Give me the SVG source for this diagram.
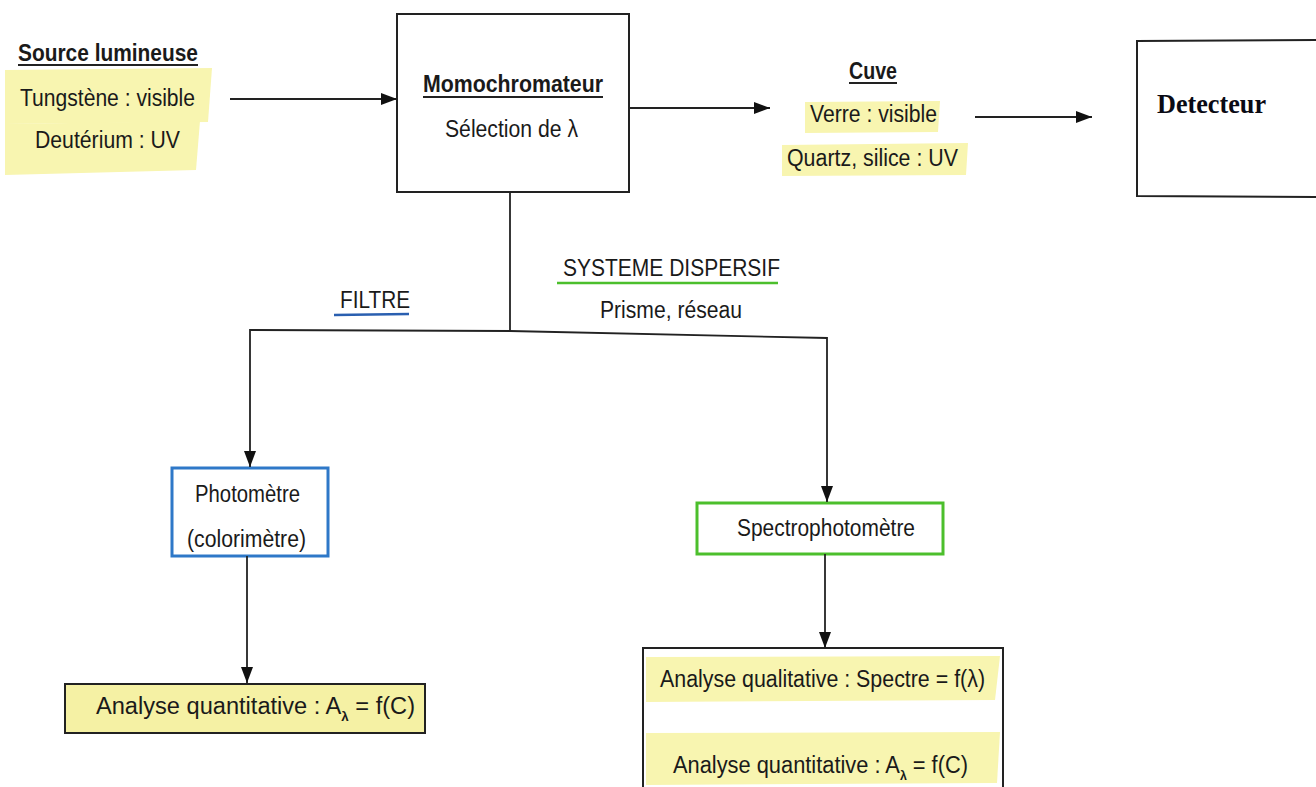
<svg xmlns="http://www.w3.org/2000/svg" width="1316" height="787" viewBox="0 0 1316 787">
<defs>
<marker id="ah" viewBox="0 0 16 12" refX="16" refY="6" markerWidth="16" markerHeight="12" markerUnits="userSpaceOnUse" orient="auto">
<path d="M0,0 L16,6 L0,12 Z" fill="#111"/>
</marker>
<style>
text{font-family:"Liberation Sans",Arial,sans-serif;font-size:23px;fill:#1a1a1a}
.b{font-weight:bold}
.det{font-family:"Liberation Serif","Times New Roman",serif;font-weight:bold;font-size:27px;fill:#0a0a14}
.hl{fill:#f8f5b0}
.box{fill:#fff;stroke:#222;stroke-width:2}
.ln{fill:none;stroke:#222;stroke-width:1.8}
.u{stroke:#222;stroke-width:2}
</style>
</defs>
<rect width="1316" height="787" fill="#fff"/>

<g id="source">
<text x="18" y="61" class="b" textLength="180" lengthAdjust="spacingAndGlyphs">Source lumineuse</text>
<line x1="18" y1="65" x2="198" y2="65" class="u"/>
<path d="M5,70 L212,68 L208,122 L5,124 Z" class="hl"/>
<path d="M5,124 L200,121 L196,170 L5,175 Z" class="hl"/>
<text x="20" y="106" textLength="175" lengthAdjust="spacingAndGlyphs">Tungstène : visible</text>
<text x="35" y="148" textLength="145" lengthAdjust="spacingAndGlyphs">Deutérium : UV</text>
</g>

<g id="monochromateur">
<rect x="397" y="14" width="232" height="178" class="box"/>
<text x="423" y="92" class="b" textLength="180" lengthAdjust="spacingAndGlyphs">Momochromateur</text>
<line x1="423" y1="97" x2="603" y2="97" class="u"/>
<text x="445" y="137" textLength="133" lengthAdjust="spacingAndGlyphs">Sélection de λ</text>
</g>

<g id="cuve">
<text x="849" y="79" class="b" textLength="48" lengthAdjust="spacingAndGlyphs">Cuve</text>
<line x1="849" y1="83" x2="897" y2="83" class="u"/>
<path d="M805,102 L940,101 L938,132 L805,133 Z" class="hl"/>
<path d="M782,145 L968,143 L966,175 L782,176 Z" class="hl"/>
<text x="810" y="122" textLength="127" lengthAdjust="spacingAndGlyphs">Verre : visible</text>
<text x="787" y="166" textLength="171" lengthAdjust="spacingAndGlyphs">Quartz, silice : UV</text>
</g>

<g id="detecteur">
<path d="M1320,40 L1137,41 L1137,196 L1320,197" class="box"/>
<text x="1157" y="113" class="det" textLength="109" lengthAdjust="spacingAndGlyphs">Detecteur</text>
</g>

<g id="filtre">
<text x="340" y="308" textLength="70" lengthAdjust="spacingAndGlyphs">FILTRE</text>
<line x1="334" y1="315" x2="409" y2="314" stroke="#2a5fb0" stroke-width="2.5"/>
</g>

<g id="systeme">
<text x="563" y="276" textLength="217" lengthAdjust="spacingAndGlyphs">SYSTEME DISPERSIF</text>
<line x1="557" y1="283" x2="778" y2="283" stroke="#4cbf2c" stroke-width="2.5"/>
<text x="600" y="318" textLength="142" lengthAdjust="spacingAndGlyphs">Prisme, réseau</text>
</g>

<g id="photometre">
<rect x="172" y="468" width="156" height="88" fill="#fff" stroke="#2e78c8" stroke-width="3"/>
<text x="195" y="502" textLength="105" lengthAdjust="spacingAndGlyphs">Photomètre</text>
<text x="187" y="547" textLength="119" lengthAdjust="spacingAndGlyphs">(colorimètre)</text>
</g>

<g id="spectrophotometre">
<rect x="697" y="503" width="246" height="51" fill="#fff" stroke="#4cbf2c" stroke-width="3"/>
<text x="737" y="536" textLength="178" lengthAdjust="spacingAndGlyphs">Spectrophotomètre</text>
</g>

<g id="analyse-filtre">
<rect x="65" y="684" width="360" height="49" fill="#f5f1a4" stroke="#222" stroke-width="2"/>
<text x="96" y="714" textLength="319" lengthAdjust="spacingAndGlyphs">Analyse quantitative : A<tspan dy="7" font-size="13" class="b">λ</tspan><tspan dy="-7"> = f(C)</tspan></text>
</g>

<g id="analyse-dispersif">
<rect x="643" y="648" width="360" height="145" class="box"/>
<path d="M646,657 L1000,656 L995,700 L646,702 Z" class="hl"/>
<path d="M646,733 L1000,732 L997,783 L646,785 Z" class="hl"/>
<text x="660" y="687" textLength="325" lengthAdjust="spacingAndGlyphs">Analyse qualitative : Spectre = f(λ)</text>
<text x="673" y="773" textLength="295" lengthAdjust="spacingAndGlyphs">Analyse quantitative : A<tspan dy="7" font-size="13" class="b">λ</tspan><tspan dy="-7"> = f(C)</tspan></text>
</g>

<g id="connectors">
<line x1="230" y1="99" x2="397" y2="99" class="ln" marker-end="url(#ah)"/>
<line x1="629" y1="108" x2="770" y2="108" class="ln" marker-end="url(#ah)"/>
<line x1="975" y1="117" x2="1092" y2="117" class="ln" marker-end="url(#ah)"/>
<polyline points="510,192 510,331" class="ln"/>
<polyline points="510,331 250,330 250,467" class="ln" marker-end="url(#ah)"/>
<polyline points="510,331 827,338 827,502" class="ln" marker-end="url(#ah)"/>
<line x1="247" y1="556" x2="247" y2="683" class="ln" marker-end="url(#ah)"/>
<line x1="825" y1="554" x2="825" y2="648" class="ln" marker-end="url(#ah)"/>
</g>
</svg>
